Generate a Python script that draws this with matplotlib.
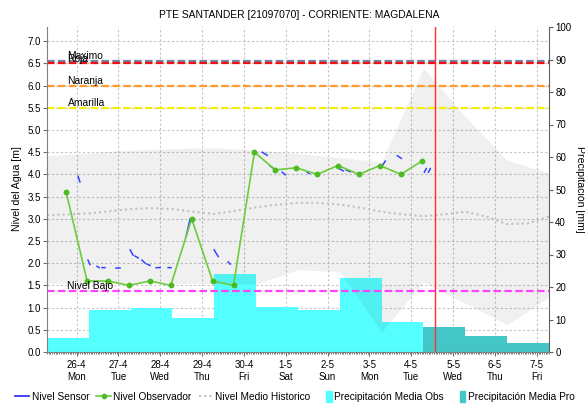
import numpy as np
import pandas as pd
import matplotlib
matplotlib.use('Agg')
import matplotlib.pyplot as plt
import matplotlib.dates as mdates
from matplotlib.lines import Line2D
from matplotlib.patches import Patch, Rectangle
from matplotlib.legend_handler import HandlerPatch

plt.rcParams['font.family'] = ['Liberation Sans', 'DejaVu Sans']

# dia hidrologico: de 07:00 a 07:00
inicio = pd.Timestamp('2021-04-25 07:00')
fin = pd.Timestamp('2021-05-07 07:00')

# precipitacion media diaria [mm]
precip_obs = [4.2, 13.0, 13.4, 10.6, 24.0, 14.0, 13.0, 22.8, 9.1]
precip_pro = [7.6, 4.8, 2.9]

# nivel observador (lecturas 06:00 y 18:00)
obs_horas = pd.date_range('2021-04-25 18:00', periods=18, freq='12h')
obs_nivel = [3.6, 1.6, 1.6, 1.5, 1.6, 1.5, 3.0, 1.6, 1.5,
             4.5, 4.1, 4.15, 4.0, 4.2, 4.0, 4.2, 4.0, 4.3]

# nivel sensor (horas desde el inicio, None = sin dato)
sensor_horas = [17.8, 18.9, None, 23.5, 24.7, None, 28.7, 29.9, None,
                31.6, 33.3, None, 39.6, 41.9, None, 47.7, 49.4, None,
                50.5, 52.3, None, 54.5, 56.3, None, 57.4, 59.1, None,
                62.6, 64.9, None, 69.5, 71.2, None, 79.8, 82.1, None,
                95.9, 98.2, None, 103.9, 105.1, None, 123.5, 126.3, None,
                128.0, 129.8, None, 134.9, 136.7, None, 149.3, 150.4, None,
                167.7, 170.0, None, 171.7, 174.0, None, 192.4, 194.1, None,
                201.0, 203.3, None, 216.5, 217.6, None, 218.8, 219.9]
sensor_nivel = [3.96, 3.83, None, 2.07, 1.97, None, 1.93, 1.90, None,
                1.90, 1.90, None, 1.89, 1.89, None, 2.30, 2.18, None,
                2.16, 2.12, None, 2.07, 2.00, None, 1.98, 1.95, None,
                1.90, 1.90, None, 1.90, 1.90, None, 2.60, 3.00, None,
                2.30, 2.15, None, 2.03, 1.98, None, 4.50, 4.43, None,
                4.19, 4.14, None, 4.05, 3.99, None, 4.05, 4.02, None,
                4.13, 4.08, None, 4.10, 4.06, None, 4.20, 4.30, None,
                4.42, 4.36, None, 4.05, 4.13, None, 4.05, 4.13]

# nivel medio historico cada 12 h
medio_horas = pd.date_range(inicio, periods=25, freq='12h')
medio_nivel = [3.08, 3.10, 3.12, 3.17, 3.22, 3.24, 3.22, 3.16, 3.11, 3.18,
               3.26, 3.32, 3.36, 3.36, 3.32, 3.25, 3.16, 3.10, 3.06, 3.10,
               3.16, 3.05, 2.88, 2.90, 3.05]

# banda historica minimo / maximo (diaria)
banda_dias = pd.date_range(inicio, periods=13, freq='D')
banda_min = [1.55, 1.55, 1.55, 1.55, 1.54, 1.53, 1.85, 1.81, 0.45, 1.58,
             1.10, 0.61, 1.24]
banda_max = [4.42, 4.48, 4.55, 4.58, 4.60, 4.55, 4.47, 4.38, 4.28, 6.40,
             5.30, 4.32, 4.03]

# umbrales [m]
umbrales = {'Maximo': 6.56, 'Roja': 6.5, 'Naranja': 6.0, 'Amarilla': 5.5,
            'Nivel Bajo': 1.38}
colores_umbral = {'Maximo': '#7381a3', 'Roja': '#f01010', 'Naranja': '#ff9a2a',
                  'Amarilla': '#f4f000', 'Nivel Bajo': '#ff40ff'}

ahora = pd.Timestamp('2021-05-04 13:45')

fig = plt.figure(figsize=(5.85, 4.04), dpi=100)
pos = [47 / 585, 1 - 352 / 404, 502 / 585, 325 / 404]

ax_grid = fig.add_axes(pos)
ax = fig.add_axes(pos, sharex=ax_grid, sharey=ax_grid)
ax_pp = ax.twinx()

ax_grid.set_zorder(1)
ax_pp.set_zorder(2)
ax.set_zorder(3)
ax.patch.set_visible(False)
ax_pp.patch.set_visible(False)

t0 = mdates.date2num(inicio)
ax.set_xlim(t0, mdates.date2num(fin))
ax.set_ylim(0, 7.32)
ax_pp.set_ylim(0, 100)

# ejes x: dias a medianoche
ticks = pd.date_range('2021-04-26', '2021-05-07', freq='D')
ax.set_xticks(mdates.date2num(ticks))
ax.set_xticklabels([f'{d.day}-{d.month}\n{d.strftime("%a")}' for d in ticks])
ax.set_xticks(mdates.date2num(pd.date_range(inicio, fin, freq='h')), minor=True)
ax.set_yticks(np.arange(0, 7.01, 0.5))
ax.set_yticklabels([f'{v:.1f}' for v in np.arange(0, 7.01, 0.5)])
ax_pp.set_yticks(range(0, 101, 10))

# rejilla detras de las barras
ax_grid.grid(True, color='#c4c4c4', linestyle=(0, (2, 2)), linewidth=0.8)
ax_grid.tick_params(which='both', left=False, bottom=False,
                    labelleft=False, labelbottom=False)
for s in ax_grid.spines.values():
    s.set_visible(False)

# precipitacion
dias = mdates.date2num(pd.date_range(inicio, periods=12, freq='D'))
ax_pp.bar(dias[:9], precip_obs, width=1, align='edge', color='#55ffff',
          linewidth=0)
ax_pp.bar(dias[9:], precip_pro, width=1, align='edge', color='#45c6c6',
          linewidth=0)

# banda historica
ax.fill_between(mdates.date2num(banda_dias), banda_min, banda_max,
                color='black', alpha=0.06, linewidth=0)
ax.plot(mdates.date2num(medio_horas), medio_nivel, color='#c0c0c0',
        linewidth=1.5, linestyle=(0, (1, 1.5)))

for nombre, nivel in umbrales.items():
    ax.axhline(nivel, color=colores_umbral[nombre], linewidth=1.6,
               linestyle=(0, (3.4, 1.5)))
    ax.annotate(nombre, (t0 + 0.49, nivel), xytext=(0, 1.2),
                textcoords='offset points', va='baseline', ha='left',
                fontsize=7.4, color='black')

sx = [t0 + h / 24 if h is not None else np.nan for h in sensor_horas]
sy = [v if v is not None else np.nan for v in sensor_nivel]
ax.plot(sx, sy, color='#3344ff', linewidth=1.1)

ax.plot(mdates.date2num(obs_horas), obs_nivel, color='#6ccc3c', linewidth=1.2,
        marker='o', markersize=3.2, markerfacecolor='#4cbb22',
        markeredgecolor='#4cbb22')

ax.axvline(mdates.date2num(ahora), color='#ff3030', linewidth=1)

# estilo de ejes
for s in ['top', 'right']:
    ax.spines[s].set_visible(False)
for s in ['top', 'left', 'bottom']:
    ax_pp.spines[s].set_visible(False)
ax.spines['left'].set_color('#808080')
ax.spines['bottom'].set_color('#808080')
ax_pp.spines['right'].set_color('#606060')
ax.tick_params(axis='both', which='major', labelsize=7, length=3, pad=1.5,
               color='#707070')
ax.tick_params(axis='x', which='minor', length=1.5, width=0.6, color='#606060')
ax.tick_params(axis='x', which='major', length=3, pad=3)
ax_pp.tick_params(axis='y', labelsize=7, length=3, pad=1.5, color='#606060')

fig.text(299 / 585, 1 - 15 / 404, 'PTE SANTANDER [21097070] - CORRIENTE: MAGDALENA',
         ha='center', va='center', fontsize=7.4)
fig.text(17 / 585, 1 - 189 / 404, 'Nivel del Agua [m]', rotation=90,
         ha='center', va='center', fontsize=7.6)
fig.text(580 / 585, 1 - 189 / 404, 'Precipitación [mm]', rotation=270,
         ha='center', va='center', fontsize=7.6)


def cuadro(legend, orig_handle, xdescent, ydescent, width, height, fontsize):
    w = height * 0.75
    return Rectangle((width - w - xdescent, -ydescent - 1.5), w, height + 3)


handles = [
    Line2D([], [], color='#2222ee', linewidth=1.2),
    Line2D([], [], color='#6ccc3c', linewidth=1.2, marker='o', markersize=3,
           markerfacecolor='#4cbb22', markeredgecolor='#4cbb22'),
    Line2D([], [], color='#c0c0c0', linewidth=1.5, linestyle=(0, (1, 1.5))),
    Patch(color='#55ffff'),
    Patch(color='#45c6c6'),
]
labels = ['Nivel Sensor', 'Nivel Observador', 'Nivel Medio Historico',
          'Precipitación Media Obs', 'Precipitación Media Pro']
fig.legend(handles, labels, loc='center left', bbox_to_anchor=(15 / 585, 1 - 397 / 404),
           ncol=5, frameon=False, fontsize=7.3, handlelength=1.4,
           handletextpad=0.25, columnspacing=0.7, borderpad=0, borderaxespad=0,
           handler_map={Patch: HandlerPatch(patch_func=cuadro)})

fig.savefig('out.png', dpi=100)
